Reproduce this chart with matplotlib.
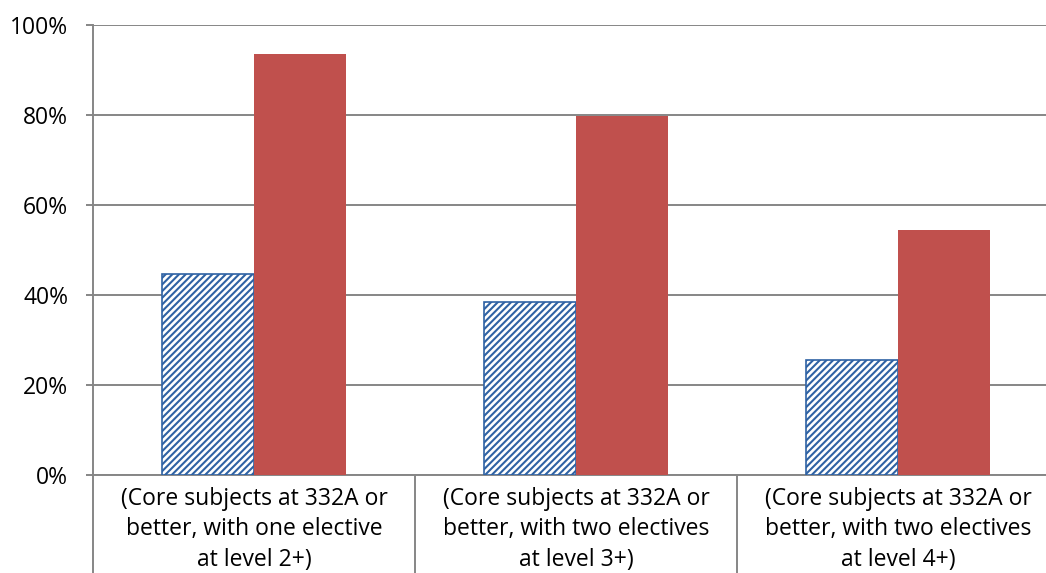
import matplotlib
matplotlib.use("Agg")
import matplotlib.pyplot as plt
import matplotlib.transforms as mtransforms
import numpy as np

categories = [
    "(Core subjects at 332A or\nbetter, with one elective\nat level 2+)",
    "(Core subjects at 332A or\nbetter, with two electives\nat level 3+)",
    "(Core subjects at 332A or\nbetter, with two electives\nat level 4+)",
]
series_hatched = [44.7, 38.5, 25.6]
series_red = [93.6, 79.8, 54.5]
y_ticks = [0, 20, 40, 60, 80, 100]

GRID = "#868686"
RED = "#C0504D"
BLUE = "#2F62A4"

plt.rcParams["font.family"] = ["Open Sans", "DejaVu Sans"]
plt.rcParams["hatch.linewidth"] = 1.5

W, H = 1046, 573
fig = plt.figure(figsize=(W / 100, H / 100), dpi=100)
left, right, top, bottom = 93, 93 + 966, 25, 475
ax = fig.add_axes([left / W, 1 - bottom / H, (right - left) / W, (bottom - top) / H])

x = np.arange(len(categories))
bw = 0.287
ax.bar(x - bw / 2, series_hatched, width=bw, facecolor="white", edgecolor=BLUE,
       hatch="/////", linewidth=1.2, zorder=3)
ax.bar(x + bw / 2, series_red, width=bw, color=RED, linewidth=0, zorder=3)

ax.set_xlim(-0.5, len(categories) - 0.5)
ax.set_ylim(0, 100)
ax.set_yticks(y_ticks)
ax.set_yticklabels([f"{t}%" for t in y_ticks], fontsize=16.5)
ax.yaxis.grid(True, color=GRID, linewidth=1.4, zorder=0)
ax.set_axisbelow(True)
ax.set_xticks([])
for side in ("top", "right"):
    ax.spines[side].set_visible(False)
for side in ("left", "bottom"):
    ax.spines[side].set_color(GRID)
    ax.spines[side].set_linewidth(1.4)
ax.tick_params(axis="y", length=5, width=1.4, color=GRID, pad=13)

# category dividers below the axis
trans = mtransforms.blended_transform_factory(ax.transData, ax.transAxes)
drop = (H - bottom) / (bottom - top)
for b in np.arange(len(categories) + 1) - 0.5:
    ax.plot([b, b], [0, -drop], transform=trans, color=GRID, linewidth=1.4,
            clip_on=False, zorder=4)

for i, label in enumerate(categories):
    ax.text(i, -0.026, label, transform=trans, ha="center", va="top",
            fontsize=16.5, linespacing=1.36, multialignment="center")

fig.savefig("out.png", dpi=100)
